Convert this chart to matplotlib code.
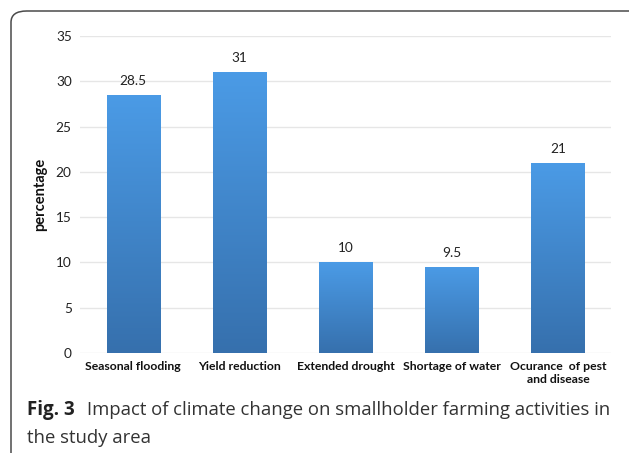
import numpy as np
import matplotlib
matplotlib.use("Agg")
import matplotlib.pyplot as plt
from matplotlib.patches import FancyBboxPatch
from matplotlib.colors import LinearSegmentedColormap

categories = ["Seasonal flooding", "Yield reduction", "Extended drought",
              "Shortage of water", "Ocurance  of pest\nand disease"]
values = [28.5, 31, 10, 9.5, 21]
yticks = [0, 5, 10, 15, 20, 25, 30, 35]

W, H = 629, 453
fig = plt.figure(figsize=(W / 100, H / 100), dpi=100)
fig.patch.set_facecolor("white")

# Rounded frame around the figure panel (open at the right and bottom edges)
frame = FancyBboxPatch((11 / W, -0.2), 1.2, 1 - 11 / H + 0.2,
                       boxstyle="round,pad=0,rounding_size=0.025",
                       transform=fig.transFigure, fill=False,
                       edgecolor="#4a4a4a", linewidth=1.1, zorder=0)
fig.patches.append(frame)

ax = fig.add_axes([80 / W, 1 - 353 / H, (611 - 80) / W, (353 - 36) / H])
ax.set_facecolor("none")
x = np.arange(len(categories))

ax.set_yticks(yticks)
ax.yaxis.grid(True, color="#e6e6e6", linewidth=1.0)
ax.set_axisbelow(True)
for s in ax.spines.values():
    s.set_visible(False)
ax.tick_params(axis="y", length=0, pad=6, labelsize=9.8, labelcolor="#222222")
ax.tick_params(axis="x", length=0, pad=6)
ax.set_xticks(x)
ax.set_xticklabels(categories, fontsize=8.8, fontweight="bold", color="#111111",
                   linespacing=1.2)
for t in ax.get_yticklabels():
    t.set_fontfamily("Lato")
for t in ax.get_xticklabels():
    t.set_fontfamily("Lato")

ax.set_ylabel("percentage", fontsize=10.5, fontweight="bold", family="Lato",
              labelpad=6, color="#111111")

# Bars with a vertical gradient fill
cmap = LinearSegmentedColormap.from_list("barfade", ["#3670ad", "#4b9be6"])
grad = np.linspace(0, 1, 256).reshape(-1, 1)
width = 0.5
bars = ax.bar(x, values, width=width, color="none", edgecolor="none")
for b, v in zip(bars, values):
    x0 = b.get_x()
    im = ax.imshow(grad, cmap=cmap, aspect="auto", origin="lower",
                   extent=[x0, x0 + width, 0, v], zorder=2, interpolation="bilinear")
    im.set_clip_path(b)
    ax.text(b.get_x() + width / 2, v + 0.9, f"{v:g}", ha="center", va="bottom",
            fontsize=9.8, family="Lato", color="#222222")
ax.set_xlim(-0.5, len(categories) - 0.5)
ax.set_ylim(0, 35)

# Caption
fig.text(27 / W, 1 - 415 / H, "Fig. 3", fontsize=13.5, fontweight="bold",
         family="Open Sans", color="#222222", va="baseline")
fig.text(87 / W, 1 - 415 / H, "Impact of climate change on smallholder farming activities in",
         fontsize=13.3, family="Open Sans", color="#333333", va="baseline")
fig.text(27 / W, 1 - 443 / H, "the study area", fontsize=13.3, family="Open Sans",
         color="#333333", va="baseline")

fig.savefig("out.png", dpi=100)
